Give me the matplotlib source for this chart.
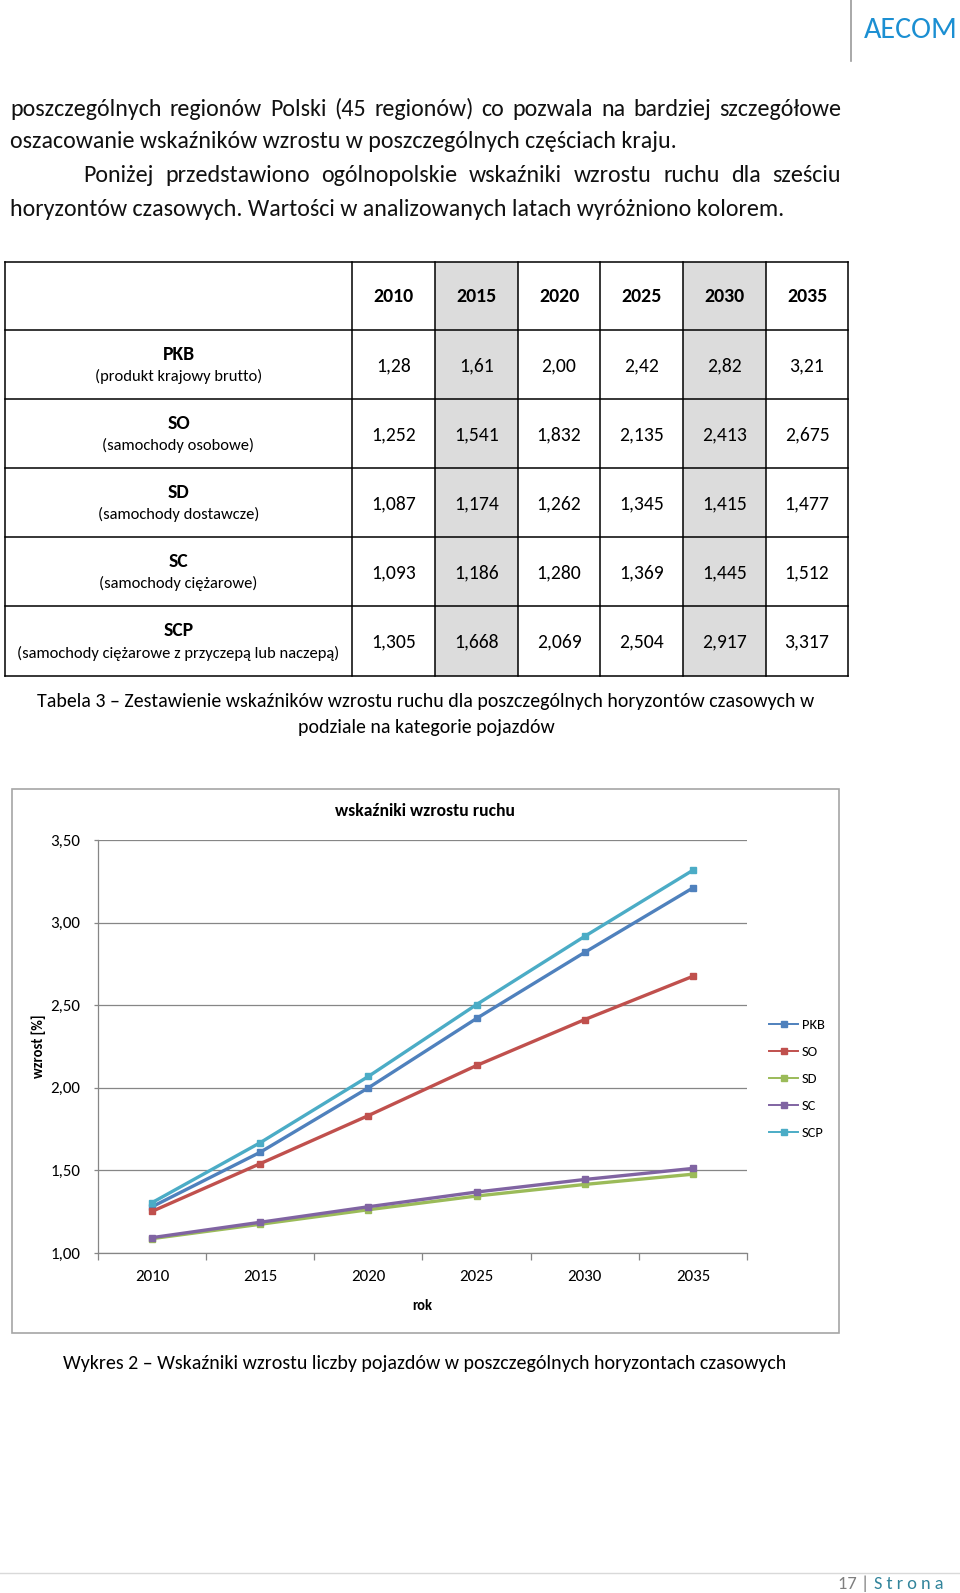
import matplotlib
matplotlib.use("Agg")
import matplotlib.pyplot as plt
from matplotlib.patches import Rectangle

# ---------------- data ----------------
years = [2010, 2015, 2020, 2025, 2030, 2035]
year_labels = ["2010", "2015", "2020", "2025", "2030", "2035"]
highlight_years = [2015, 2030]
series_names = ["PKB", "SO", "SD", "SC", "SCP"]
series_desc = ["(produkt krajowy brutto)", "(samochody osobowe)", "(samochody dostawcze)",
               "(samochody ciężarowe)", "(samochody ciężarowe z przyczepą lub naczepą)"]
pkb = [1.28, 1.61, 2.00, 2.42, 2.82, 3.21]
so = [1.252, 1.541, 1.832, 2.135, 2.413, 2.675]
sd = [1.087, 1.174, 1.262, 1.345, 1.415, 1.477]
sc = [1.093, 1.186, 1.280, 1.369, 1.445, 1.512]
scp = [1.305, 1.668, 2.069, 2.504, 2.917, 3.317]
series_values = [pkb, so, sd, sc, scp]
series_decimals = [2, 3, 3, 3, 3]
series_colors = ["#4F81BD", "#C0504D", "#9BBB59", "#8064A2", "#4BACC6"]
y_ticks = [1.0, 1.5, 2.0, 2.5, 3.0, 3.5]
y_tick_labels = ["1,00", "1,50", "2,00", "2,50", "3,00", "3,50"]

body_lines = [
    ("poszczególnych regionów Polski (45 regionów) co pozwala na bardziej szczegółowe", True, 0),
    ("oszacowanie wskaźników wzrostu w poszczególnych częściach kraju.", False, 0),
    ("Poniżej przedstawiono ogólnopolskie wskaźniki wzrostu ruchu dla sześciu", True, 73),
    ("horyzontów czasowych. Wartości w analizowanych latach wyróżniono kolorem.", False, 0),
]
table_caption = ["Tabela 3 – Zestawienie wskaźników wzrostu ruchu dla poszczególnych horyzontów czasowych w",
                 "podziale na kategorie pojazdów"]
chart_title = "wskaźniki wzrostu ruchu"
y_label = "wzrost [%]"
x_label = "rok"
chart_caption = "Wykres 2 – Wskaźniki wzrostu liczby pojazdów w poszczególnych horyzontach czasowych"

FONT = ["Carlito", "DejaVu Sans"]
W, H = 960, 1593

fig = plt.figure(figsize=(W / 100, H / 100), dpi=100)
fig.patch.set_facecolor("white")
page = fig.add_axes([0, 0, 1, 1], zorder=0)
page.set_xlim(0, W)
page.set_ylim(H, 0)
page.axis("off")
renderer = fig.canvas.get_renderer()


def text_extent(s, fs, weight="normal", family=FONT):
    t = page.text(0, 0, s, fontsize=fs, fontweight=weight, family=family)
    bb = t.get_window_extent(renderer)
    t.remove()
    return bb


def text_width(s, fs, weight="normal", family=FONT):
    return text_extent(s, fs, weight, family).width


def fit(s, width, weight="normal", family=FONT):
    return 10.0 * width / text_width(s, 10.0, weight, family)


# ---------------- header ----------------
page.plot([851, 851], [0, 61], color="#9a9a9a", lw=1.2)
page.text(864, 30, "AECOM", fontsize=fit("AECOM", 94), family=FONT,
          color="#1b8fd2", ha="left", va="center")

# ---------------- body text ----------------
body_fs = fit(body_lines[3][0], 775)
line_y = [109, 142, 176, 209]
left, right = 10, 841
for (s, justify, indent), y in zip(body_lines, line_y):
    x0 = left + indent
    if not justify:
        page.text(x0, y, s, fontsize=body_fs, family=FONT, ha="left", va="center", color="#111111")
        continue
    words = s.split(" ")
    widths = [text_width(w_, body_fs) for w_ in words]
    gap = (right - x0 - sum(widths)) / (len(words) - 1)
    x = x0
    for w_, ww in zip(words, widths):
        page.text(x, y, w_, fontsize=body_fs, family=FONT, ha="left", va="center", color="#111111")
        x += ww + gap

# ---------------- table ----------------
col_edges = [5, 352, 435, 518, 600, 683, 766, 848]
row_edges = [262, 330, 399, 468, 537, 606, 676]
for yr, x0, x1 in zip(years, col_edges[1:-1], col_edges[2:]):
    if yr in highlight_years:
        page.add_patch(Rectangle((x0, row_edges[0]), x1 - x0, row_edges[-1] - row_edges[0],
                                 facecolor="#dcdcdc", edgecolor="none", zorder=1))
for x in col_edges:
    page.plot([x, x], [row_edges[0], row_edges[-1]], color="black", lw=1.1, zorder=3)
for y in row_edges:
    page.plot([col_edges[0], col_edges[-1]], [y, y], color="black", lw=1.1, zorder=3)

hdr_fs = fit("2010", 40, "bold")
val_fs = fit("1,252", 45)
lab_fs = fit("PKB", 32, "bold")
desc_fs = fit(series_desc[0], 167)
col_centers = [(a + b) / 2 for a, b in zip(col_edges[1:-1], col_edges[2:])]
for lab, cx in zip(year_labels, col_centers):
    page.text(cx, (row_edges[0] + row_edges[1]) / 2 + 1, lab, fontsize=hdr_fs, fontweight="bold",
              family=FONT, ha="center", va="center", zorder=4)
for i, (name, desc, vals, dec) in enumerate(zip(series_names, series_desc, series_values, series_decimals)):
    cy = (row_edges[i + 1] + row_edges[i + 2]) / 2
    page.text((col_edges[0] + col_edges[1]) / 2, cy - 10, name, fontsize=lab_fs, fontweight="bold",
              family=FONT, ha="center", va="center", zorder=4)
    page.text((col_edges[0] + col_edges[1]) / 2, cy + 12, desc, fontsize=desc_fs,
              family=FONT, ha="center", va="center", zorder=4)
    for v, cx in zip(vals, col_centers):
        page.text(cx, cy + 1, f"{v:.{dec}f}".replace(".", ","), fontsize=val_fs,
                  family=FONT, ha="center", va="center", zorder=4)

cap_fs = fit(table_caption[0], 778)
page.text(426, 701, table_caption[0], fontsize=cap_fs, family=FONT, ha="center", va="center")
page.text(426, 728, table_caption[1], fontsize=cap_fs, family=FONT, ha="center", va="center")

# ---------------- chart ----------------
page.add_patch(Rectangle((12, 789), 827, 544, facecolor="white", edgecolor="#a6a6a6", lw=1.2, zorder=1))
axl, axr, axt, axb = 98, 747, 840, 1253
ax = fig.add_axes([axl / W, 1 - axb / H, (axr - axl) / W, (axb - axt) / H], zorder=2)
ax.set_facecolor("none")
xpos = list(range(len(years)))
for vals, name, col in zip(series_values, series_names, series_colors):
    ax.plot(xpos, vals, color=col, lw=2.4, marker="s", markersize=4.2, label=name, zorder=3)
ax.set_xlim(-0.5, len(years) - 0.5)
ax.set_ylim(y_ticks[0], y_ticks[-1])
tick_fs = fit("3,50", 30)
ax.set_yticks(y_ticks)
ax.set_yticklabels(y_tick_labels, fontsize=tick_fs, family=FONT)
ax.set_xticks(xpos)
ax.set_xticklabels(year_labels, fontsize=tick_fs, family=FONT)
ax.set_xticks([p - 0.5 for p in range(len(years) + 1)], minor=True)
ax.tick_params(axis="x", which="major", length=0, pad=12)
ax.tick_params(axis="x", which="minor", length=5, width=0.9, color="#868686", direction="out")
ax.tick_params(axis="y", length=3, width=0.9, color="#868686", direction="out", pad=10)
ax.grid(axis="y", color="#868686", lw=0.9)
ax.set_axisbelow(True)
for sp in ["top", "right"]:
    ax.spines[sp].set_visible(False)
for sp in ["left", "bottom"]:
    ax.spines[sp].set_color("#868686")
    ax.spines[sp].set_linewidth(0.9)

leg_fs = fit("SCP", 22)
leg_px = leg_fs * 100 / 72
leg_th = text_extent("SCP", leg_fs).height
leg = ax.legend(loc="upper left", bbox_to_anchor=(769 / W, 1 - (1025 - leg_th / 2) / H),
                bbox_transform=fig.transFigure, frameon=False, prop={"family": FONT, "size": leg_fs},
                handlelength=29 / leg_px, handletextpad=4 / leg_px, labelspacing=(26.8 - leg_th) / leg_px,
                borderpad=0, borderaxespad=0, numpoints=1, markerscale=1.0)
for ln in leg.get_lines():
    ln.set_linewidth(1.4)

page.text(425, 811, chart_title, fontsize=fit(chart_title, 180, "bold"), fontweight="bold",
          family=FONT, ha="center", va="center", zorder=3)
page.text(39, 1046, y_label, fontsize=fit(y_label, 64, "bold"), fontweight="bold", rotation=90,
          family=FONT, ha="center", va="center", zorder=3)
page.text(422, 1306, x_label, fontsize=fit(x_label, 20, "bold"), fontweight="bold",
          family=FONT, ha="center", va="center", zorder=3)

page.text(425, 1363, chart_caption, fontsize=fit(chart_caption, 723), family=FONT,
          ha="center", va="center")

# ---------------- footer ----------------
page.plot([0, 960], [1573, 1573], color="#d9d9d9", lw=1.0)
fx = 838
fs_f = fit("17 | S t r o n a", 106)
page.text(fx, 1584, "17 | ", fontsize=fs_f, family=FONT, color="#7f7f7f", ha="left", va="center")
page.text(fx + text_width("17 | ", fs_f), 1584, "S t r o n a", fontsize=fs_f, family=FONT,
          color="#31849B", ha="left", va="center")

fig.savefig("out.png", dpi=100, facecolor="white")
